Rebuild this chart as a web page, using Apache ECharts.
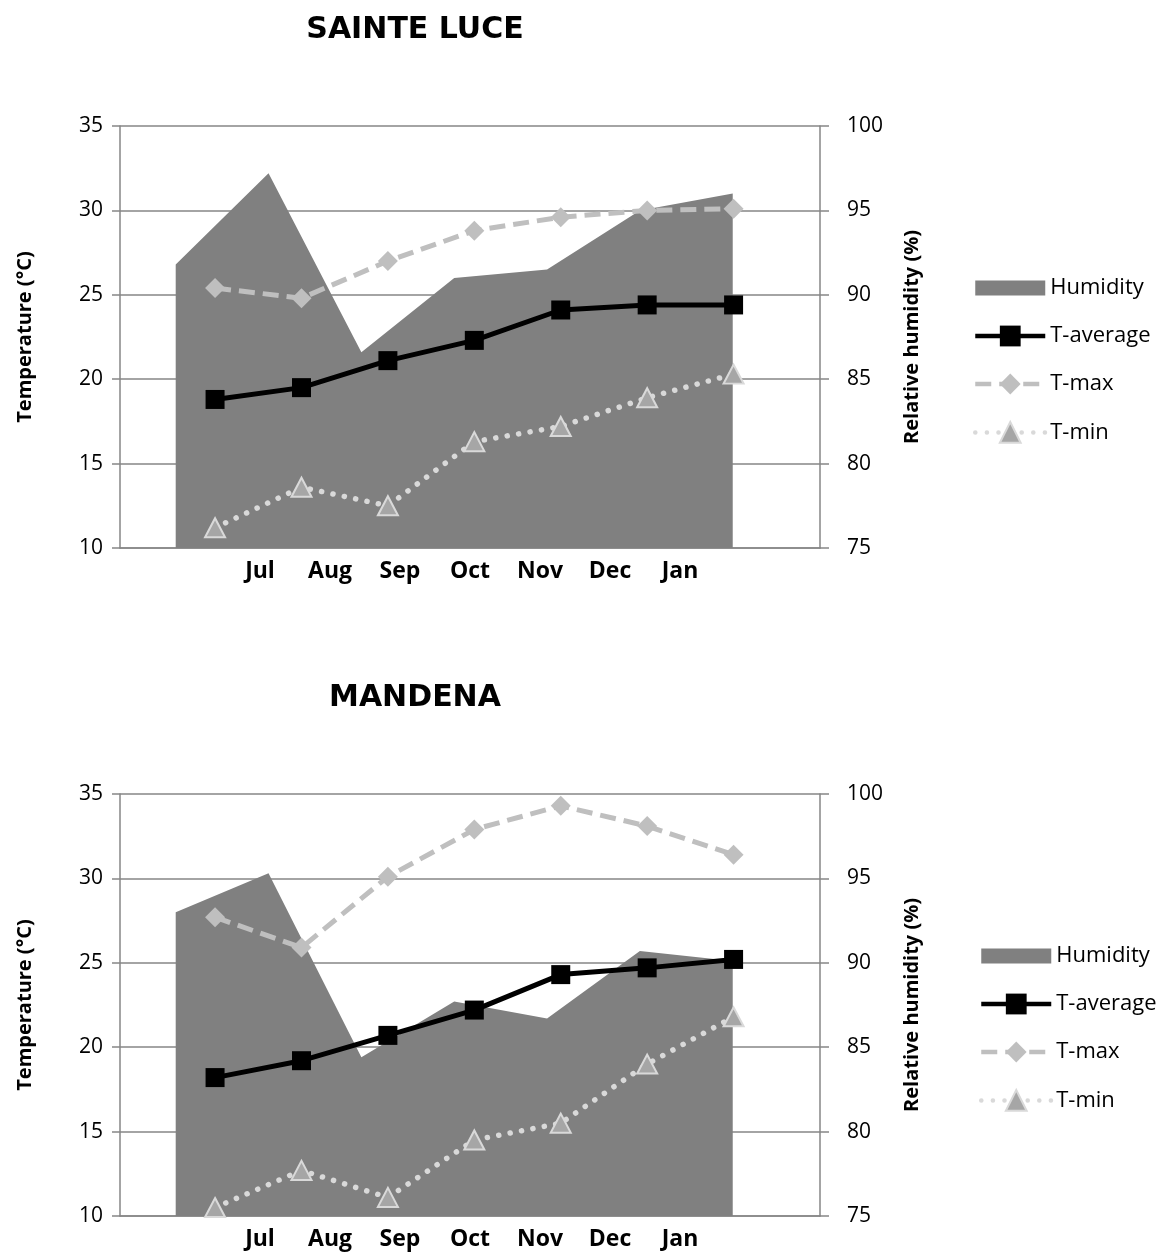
<!DOCTYPE html>
<html>
<head>
<meta charset="utf-8">
<script src="https://cdn.jsdelivr.net/npm/echarts@6/dist/echarts.min.js"></script>
<style>
  html, body { margin: 0; padding: 0; background: #ffffff; }
  #chart { width: 1165px; height: 1254px; }
</style>
</head>
<body>
<div id="chart"></div>
<script>
// Monthly climate records for two stations (Jul to Jan)
const months = ['Jul', 'Aug', 'Sep', 'Oct', 'Nov', 'Dec', 'Jan'];
const stationNames = ['SAINTE LUCE', 'MANDENA'];

const humiditySainteLuce = [91.8, 97.2, 86.6, 91.0, 91.5, 95.0, 96.0];
const tAverageSainteLuce = [18.8, 19.5, 21.1, 22.3, 24.1, 24.4, 24.4];
const tMaxSainteLuce     = [25.4, 24.8, 27.0, 28.8, 29.6, 30.0, 30.1];
const tMinSainteLuce     = [11.2, 13.6, 12.5, 16.3, 17.2, 18.9, 20.3];

const humidityMandena = [93.0, 95.3, 84.4, 87.7, 86.7, 90.7, 90.1];
const tAverageMandena = [18.2, 19.2, 20.7, 22.2, 24.3, 24.7, 25.2];
const tMaxMandena     = [27.7, 25.9, 30.1, 32.9, 34.3, 33.1, 31.4];
const tMinMandena     = [10.5, 12.7, 11.1, 14.5, 15.5, 19.0, 21.8];

// Axis scales
const tempMin = 10, tempMax = 35, tempStep = 5;
const humMin = 75, humMax = 100, humStep = 5;

const seriesNames = ['Humidity', 'T-average', 'T-max', 'T-min'];

const panels = [
  { title: stationNames[0], hum: humiditySainteLuce, avg: tAverageSainteLuce, max: tMaxSainteLuce, min: tMinSainteLuce },
  { title: stationNames[1], hum: humidityMandena, avg: tAverageMandena, max: tMaxMandena, min: tMinMandena }
];

const FONT = '"Open Sans", "Noto Sans", sans-serif';
const GRID_COLOR = '#868686';
const PANEL_TOP = [126, 794];
const PANEL_H = 422;

// Category slots for the month labels (two blank slots on each side)
const monthSlots = ['', ''].concat(months, ['', '']);

const toPoints = arr => arr.map((v, i) => [i, v]);

const grids = [], xAxes = [], yAxes = [], series = [], legends = [], graphics = [];

panels.forEach((p, k) => {
  grids.push({ left: 120, top: PANEL_TOP[k], width: 700, height: PANEL_H, containLabel: false });

  // visible month axis
  xAxes.push({
    type: 'category', gridIndex: k, data: monthSlots, boundaryGap: false,
    axisLine: { show: true, onZero: false, lineStyle: { color: GRID_COLOR, width: 1.5 } },
    axisTick: { show: false },
    axisLabel: { interval: 0, margin: 12, color: '#000', fontFamily: FONT, fontWeight: 'bold', fontSize: 23 },
    splitLine: { show: false }
  });
  // humidity position axis
  xAxes.push({ type: 'value', gridIndex: k, min: -0.6, max: 6.94, show: false });
  // temperature position axis
  xAxes.push({ type: 'value', gridIndex: k, min: -1.1, max: 7.0, show: false });

  yAxes.push({
    type: 'value', gridIndex: k, position: 'left', min: tempMin, max: tempMax, interval: tempStep,
    name: 'Temperature (°C)', nameLocation: 'middle', nameRotate: 90, nameGap: 85,
    nameTextStyle: { color: '#000', fontFamily: FONT, fontWeight: 'bold', fontSize: 20 },
    axisLine: { show: true, onZero: false, lineStyle: { color: GRID_COLOR, width: 1.5 } },
    axisTick: { show: true, length: 8, inside: false, lineStyle: { color: GRID_COLOR, width: 1.5 } },
    axisLabel: { margin: 17, color: '#000', fontFamily: FONT, fontSize: 21 },
    splitLine: { show: true, lineStyle: { color: GRID_COLOR, width: 1.5 } }
  });
  yAxes.push({
    type: 'value', gridIndex: k, position: 'right', min: humMin, max: humMax, interval: humStep,
    name: 'Relative humidity (%)', nameLocation: 'middle', nameRotate: 90, nameGap: 82,
    nameTextStyle: { color: '#000', fontFamily: FONT, fontWeight: 'bold', fontSize: 20 },
    axisLine: { show: true, onZero: false, lineStyle: { color: GRID_COLOR, width: 1.5 } },
    axisTick: { show: true, length: 9, inside: false, lineStyle: { color: GRID_COLOR, width: 1.5 } },
    axisLabel: { margin: 27, color: '#000', fontFamily: FONT, fontSize: 21 },
    splitLine: { show: false }
  });

  const xa = k * 3, ya = k * 2;

  series.push({
    type: 'line', name: seriesNames[0], xAxisIndex: xa + 1, yAxisIndex: ya + 1,
    data: toPoints(p.hum), symbol: 'none', smooth: false,
    lineStyle: { width: 0, color: '#808080' },
    itemStyle: { color: '#808080' },
    areaStyle: { color: '#808080', opacity: 1, origin: 'start' },
    z: 1, silent: true
  });
  series.push({
    type: 'line', name: seriesNames[1], xAxisIndex: xa + 2, yAxisIndex: ya,
    data: toPoints(p.avg), symbol: 'rect', symbolSize: 19,
    lineStyle: { color: '#000000', width: 5 },
    itemStyle: { color: '#000000' },
    z: 4
  });
  series.push({
    type: 'line', name: seriesNames[2], xAxisIndex: xa + 2, yAxisIndex: ya,
    data: toPoints(p.max), symbol: 'diamond', symbolSize: 20,
    lineStyle: { color: '#bfbfbf', width: 5, type: [16, 8] },
    itemStyle: { color: '#bfbfbf' },
    z: 3
  });
  series.push({
    type: 'line', name: seriesNames[3], xAxisIndex: xa + 2, yAxisIndex: ya,
    data: toPoints(p.min), symbol: 'triangle', symbolSize: [20, 19],
    lineStyle: { color: '#d9d9d9', width: 5.5, type: [0.1, 11.5], cap: 'round' },
    itemStyle: { color: '#a6a6a6', borderColor: '#d9d9d9', borderWidth: 2 },
    z: 3
  });

  legends.push({
    orient: 'vertical', left: k === 0 ? 973 : 979, top: k === 0 ? 277 : 945,
    padding: 0,
    itemWidth: 70, itemHeight: 26, itemGap: 26,
    selectedMode: false,
    lineStyle: { width: 4.5 },
    textStyle: { color: '#000', fontFamily: FONT, fontSize: 22 },
    data: [
      { name: seriesNames[0], icon: 'path://M0,0H70V15H0Z' },
      seriesNames[1], seriesNames[2], seriesNames[3]
    ]
  });

  graphics.push({
    type: 'text', x: 415, y: k === 0 ? 30 : 698,
    style: {
      text: p.title, align: 'center', verticalAlign: 'middle',
      font: 'bold 30px "DejaVu Sans", sans-serif', fill: '#000'
    }
  });
});

const chart = echarts.init(document.getElementById('chart'), null, { renderer: 'canvas' });
chart.setOption({
  backgroundColor: '#ffffff',
  animation: false,
  grid: grids,
  xAxis: xAxes,
  yAxis: yAxes,
  legend: legends,
  series: series,
  graphic: graphics
});
</script>
</body>
</html>
